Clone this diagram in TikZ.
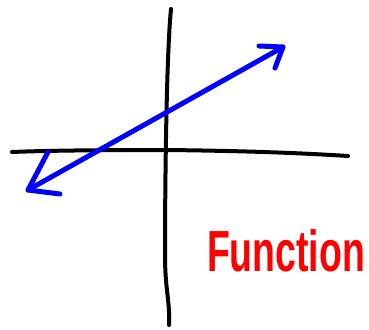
\documentclass[tikz,border=0pt]{standalone}
\usepackage{fontspec}
\setmainfont{Liberation Sans}
\begin{document}
\begin{tikzpicture}[x=1pt,y=-1pt,
  axisline/.style={line width=4pt,line cap=round,line join=round,black},
  graphline/.style={line width=5pt,line cap=round,line join=round,blue},
  label/.style={text=red,inner sep=0pt,font=\fontsize{58}{60}\selectfont\bfseries,xscale=0.645}]
\useasboundingbox (0,0) rectangle (369,329);
% axes
\coordinate (vtop) at (171,9);
\coordinate (vbot) at (169,325);
\coordinate (hleft) at (12,152);
\coordinate (hright) at (348,156);
\draw[axisline] (vtop) .. controls (166,60) and (165,200) .. (165,255) .. controls (165,290) and (170,300) .. (vbot);
\draw[axisline] (hleft) .. controls (60,150) and (140,150) .. (168,150) .. controls (250,151) and (300,153) .. (hright);
% function line
\coordinate (lo) at (28,190);
\coordinate (hi) at (283,47);
\draw[graphline] (lo) -- (hi);
\draw[graphline] (48,152) -- (lo) -- (60,194);
\draw[graphline] (259,46) -- (hi) -- (275,68);
% label
\node[label,anchor=base west] (fn) at (207,271) {Function};
\end{tikzpicture}
\end{document}
